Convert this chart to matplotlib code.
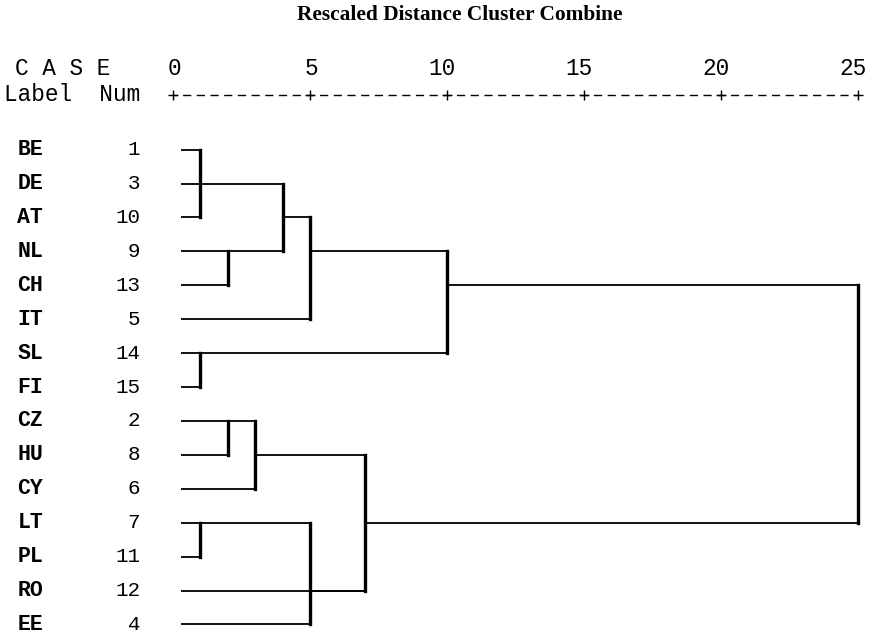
import matplotlib
matplotlib.use("Agg")
import matplotlib.pyplot as plt

# Tapaukset (järjestys kuvan mukaan, ylhäältä alas)
labels = ['BE', 'DE', 'AT', 'NL', 'CH', 'IT', 'SL', 'FI',
          'CZ', 'HU', 'CY', 'LT', 'PL', 'RO', 'EE']
nums = [1, 3, 10, 9, 13, 5, 14, 15, 2, 8, 6, 7, 11, 12, 4]

# Yhdistymiset: lapset (0-14 = tapaukset, 15- = aiemmat yhdistymiset),
# yhdistymisetäisyys (rescaled) ja rivi, jolta viiva jatkuu
merge_children = [[0, 1, 2], [3, 4], [15, 16], [17, 5], [6, 7], [18, 19],
                  [8, 9], [21, 10], [11, 12], [23, 14], [22, 13, 24], [20, 25]]
merge_heights = [1, 2, 4, 5, 1, 10, 2, 3, 1, 5, 7, 25]
merge_rows = [1, 3, 2, 3, 6, 4, 8, 9, 11, 13, 11, 4]

scale_ticks = [0, 5, 10, 15, 20, 25]
leaf_start = 0.3

fig = plt.figure(figsize=(8.69, 6.35), dpi=100)
ax = fig.add_axes([0, 0, 1, 1])
ax.set_xlim(-6.31, 25.4)
ax.set_ylim(14.31, -4.41)
ax.axis('off')

n = len(labels)
height = {i: leaf_start for i in range(n)}
row = {i: i for i in range(n)}

# Dendrogrammin viivat
for k, (children, h, r) in enumerate(zip(merge_children, merge_heights, merge_rows)):
    node = n + k
    for c in children:
        ax.plot([height[c], h], [row[c], row[c]], color='black', lw=1.3,
                solid_capstyle='butt')
    rows = [row[c] for c in children]
    ax.plot([h, h], [min(rows), max(rows)], color='black', lw=2.4,
            solid_capstyle='projecting')
    height[node] = h
    row[node] = r

mono = 'Liberation Mono'
for i, (lab, num) in enumerate(zip(labels, nums)):
    ax.text(-5.68, i, lab, family=mono, fontsize=15.5, fontweight='bold',
            va='center', ha='left')
    ax.text(-1.2, i, str(num), family=mono, fontsize=15,
            va='center', ha='right')

# Otsikko ja asteikko
ax.text(10.47, -3.96, 'Rescaled Distance Cluster Combine', family='Liberation Serif',
        fontsize=15.4, fontweight='bold', ha='center', va='center')
ax.text(-5.75, -2.40, 'C A S E', family=mono, fontsize=16.4, va='center', ha='left')
ax.text(-6.15, -1.61, 'Label  Num', family=mono, fontsize=16.4, va='center', ha='left')
for t in scale_ticks:
    shift = -0.18 if t >= 10 else 0.05
    ax.text(t + shift, -2.40, str(t), family=mono, fontsize=16.4, va='center', ha='center')
ax.plot([scale_ticks[0], scale_ticks[-1]], [-1.61, -1.61], color='black', lw=1.0,
        linestyle=(2.95, (5.9, 3.96)))
ax.plot(scale_ticks, [-1.61] * len(scale_ticks), '+', color='black', ms=7.5, mew=1.0)

fig.savefig('out.png', dpi=100, facecolor='white')
